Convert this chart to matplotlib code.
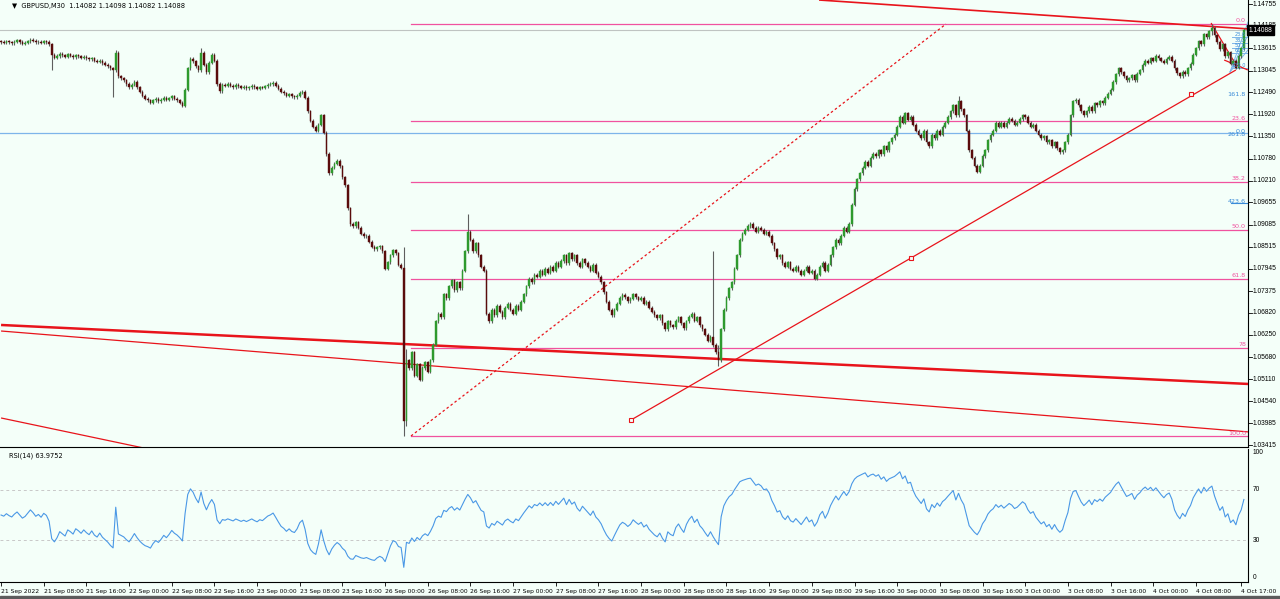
import matplotlib
matplotlib.use("Agg")
import matplotlib.pyplot as plt
import matplotlib.transforms as mtransforms
import numpy as np

# ---- data (prices in pips, /10000) ----
close_pips = [
    # 21 Sep
    11378, 11376, 11380, 11377, 11375, 11379, 11382, 11378, 11374, 11376,
    11380, 11384, 11381, 11377, 11379, 11376, 11380, 11378, 11372,
    11345, 11338, 11342, 11348, 11344, 11340, 11346, 11343, 11339, 11344,
    11341, 11337, 11340, 11336, 11333, 11336, 11330, 11327, 11330, 11324,
    11320, 11316, 11310,
    11305, 11350, 11290,
    11285, 11280, 11270, 11262, 11268, 11275, 11262, 11250, 11240, 11232, 11228,
    11222, 11228, 11232, 11226, 11230, 11235, 11229, 11233, 11238, 11232,
    11228, 11222, 11214,
    11255, 11310, 11335, 11328, 11315, 11305, 11350, 11320, 11300, 11325,
    11345, 11330,
    11270, 11252, 11268,
    11265, 11270, 11266, 11262, 11268, 11264, 11260, 11263, 11259, 11262,
    11265, 11261, 11258, 11262, 11260, 11264, 11268, 11270, 11273, 11266,
    11258, 11250, 11246, 11240, 11243, 11238, 11236, 11240, 11247, 11250, 11235,
    11200, 11175, 11160, 11150, 11165, 11190, 11145,
    11090, 11040, 11055, 11065, 11072, 11058, 11030, 11010,
    10950, 10910, 10905,
    10915, 10900, 10885, 10878, 10880, 10865,
    10852, 10845, 10850, 10853, 10840,
    # 26 Sep
    10795, 10812, 10830, 10843, 10835, 10805, 10798,
    10405,
    10560, 10540, 10580, 10520, 10550, 10510, 10540, 10555, 10530, 10560,
    10600, 10660, 10680, 10670, 10730, 10720, 10750, 10765, 10740, 10760,
    10745, 10790, 10840, 10890, 10870, 10840, 10860, 10830, 10800, 10790,
    10680, 10660,
    10690, 10675, 10700, 10685, 10670, 10695, 10705, 10690, 10680, 10700,
    10690, 10710,
    10730, 10750, 10770, 10760, 10780, 10775, 10790, 10780, 10795, 10785,
    10800, 10790, 10810, 10800,
    10815, 10830, 10810, 10835, 10820, 10830, 10810, 10800, 10820, 10810,
    10800, 10790, 10805, 10785, 10775,
    10760, 10735, 10710, 10690, 10675, 10690, 10705,
    10720, 10728, 10722, 10712, 10718, 10730, 10722, 10715, 10720, 10705,
    10710, 10695, 10685, 10675, 10668,
    10675, 10655, 10640, 10660, 10650, 10645, 10662, 10670, 10655, 10642,
    10660, 10672, 10680, 10662, 10670, 10650, 10640, 10625, 10610, 10620,
    10600, 10580, 10560,
    10640, 10690, 10720, 10745, 10760, 10795, 10830, 10870, 10885,
    10895, 10905, 10910, 10900, 10890, 10900, 10895, 10885, 10890, 10880,
    10860, 10845, 10825, 10830, 10810, 10800, 10812, 10795, 10790, 10800, 10790,
    10780, 10790, 10800, 10785, 10790, 10770, 10780, 10800, 10810, 10790, 10805,
    10830, 10850, 10870, 10860, 10880, 10900, 10890, 10910,
    10960, 11000, 11025, 11040, 11055, 11070, 11060,
    11080, 11090, 11085, 11100, 11090, 11110, 11100, 11120, 11130, 11140,
    11160, 11185, 11170, 11195, 11178, 11185, 11165,
    11150, 11140, 11130, 11150, 11120, 11110, 11140, 11130, 11150, 11140,
    11160, 11170, 11185,
    11200, 11215, 11190, 11225, 11205, 11190,
    11150, 11100, 11080, 11060, 11045, 11060,
    11085, 11100, 11125, 11140, 11150, 11170, 11160, 11170,
    11160, 11170, 11180, 11175, 11165, 11170, 11180, 11190, 11185, 11170,
    11160, 11165, 11150, 11140,
    11130, 11135, 11120, 11125, 11110, 11120, 11105, 11095, 11100, 11120, 11140,
    11190, 11225, 11230, 11215, 11200,
    11190, 11200, 11212, 11200, 11220, 11215, 11225, 11220, 11235, 11245, 11255,
    11275, 11295, 11310, 11300, 11290, 11280,
    11285, 11292, 11280, 11296, 11305,
    11320, 11330, 11325, 11336, 11330, 11342, 11336, 11330, 11325, 11335,
    11340, 11330,
    11310, 11298, 11290, 11302, 11295, 11310, 11322,
    11345, 11362, 11380, 11372, 11398, 11390, 11405, 11415,
    11395, 11378, 11360, 11372, 11342, 11352, 11322, 11330, 11312, 11342,
    11362, 11409,
]
first_open_pips = 11380
default_wick_pips = 4
# bars with long shadows: bar index -> (high, low) in pips
shadow_pips = {
    19: (11350, 11306), 42: (11312, 11236), 43: (11357, 11300),
    75: (11362, 11300), 151: (10850, 10365), 152: (10590, 10390),
    175: (10935, 10835), 267: (10840, 10595), 269: (10600, 10545),
    359: (11240, 11190), 454: (11424, 11395),
}

time_ticks = [0, 16, 32, 48, 64, 80, 96, 112, 128, 144, 160, 176, 192, 208,
              224, 240, 256, 272, 288, 304, 320, 336, 352, 368, 384, 400,
              416, 432, 448, 465]
time_labels = ["21 Sep 2022", "21 Sep 08:00", "21 Sep 16:00", "22 Sep 00:00",
               "22 Sep 08:00", "22 Sep 16:00", "23 Sep 00:00", "23 Sep 08:00",
               "23 Sep 16:00", "26 Sep 00:00", "26 Sep 08:00", "26 Sep 16:00",
               "27 Sep 00:00", "27 Sep 08:00", "27 Sep 16:00", "28 Sep 00:00",
               "28 Sep 08:00", "28 Sep 16:00", "29 Sep 00:00", "29 Sep 08:00",
               "29 Sep 16:00", "30 Sep 00:00", "30 Sep 08:00", "30 Sep 16:00",
               "3 Oct 00:00", "3 Oct 08:00", "3 Oct 16:00", "4 Oct 00:00",
               "4 Oct 08:00", "4 Oct 17:00"]
price_ticks = [1.14755, 1.14185, 1.13615, 1.13045, 1.12490, 1.11920, 1.11350,
               1.10780, 1.10210, 1.09655, 1.09085, 1.08515, 1.07945, 1.07375,
               1.06820, 1.06250, 1.05680, 1.05110, 1.04540, 1.03985, 1.03415]

fib_high = 1.14241
fib_low = 1.03645
fib_start_bar = 153.7
fib_levels = [0.0, 23.6, 38.2, 50.0, 61.8, 78.6, 100.0]
fib_texts = ["0.0", "23.6", "38.2", "50.0", "61.8", "78", "100.0"]

bid_price = 1.14088
expansion_line = 1.11440
expansion_labels = [("161.8", 1.12442), ("0.0", 1.11475), ("261.8", 1.11395),
                    ("423.6", 1.09692)]
# small fib cluster on the last bars (label, price)
cluster_labels = [("23.6", 1.13905), ("38.2", 1.13753), ("50.0", 1.13625),
                  ("61.8", 1.13496), ("100.0", 1.13110)]
cluster_start_bar = 461.5
fan_origin = (460.8, 1.13008)
fan_ends = [1.14293, 1.13958, 1.13573]

# trend lines: (bar0, price0, bar1, price1)
channel_main = (0, 1.06506, 468, 1.04989)
channel_lower = (0, 1.06351, 468, 1.03756)
old_line = (0, 1.04116, 60, 1.03250)
top_line = (306.7, 1.14858, 468, 1.14113)
fib_diag = (153.7, 1.03653, 354.3, 1.14241)
up_trend = (236.2, 1.04064, 463.0, 1.13059)
peak_line = (453.7, 1.14267, 462.4, 1.13265)
last_line = (458.6, 1.13316, 467.5, 1.13059)
up_trend_points_bar = [236.2, 341.2, 446.2]
up_trend_points_price = [1.04064, 1.08227, 1.12442]

BG = "#F4FFF9"
UP = "#2E9A2E"
DOWN = "#5A0C0C"
WICK = "#5E5E5E"
PINK = "#F0529F"
BLUE = "#7DB5EA"
BLUE_TXT = "#3A8BD8"
RED = "#E8141B"


def wilder_rsi(closes, period=14):
    ag, al = 0.0004, 0.0004
    out = [50.0]
    for i in range(1, len(closes)):
        d = closes[i] - closes[i - 1]
        ag = (ag * (period - 1) + max(d, 0.0)) / period
        al = (al * (period - 1) + max(-d, 0.0)) / period
        out.append(100.0 - 100.0 / (1.0 + ag / al) if al > 0 else 100.0)
    return np.array(out)


closes = np.array(close_pips) / 10000.0
opens = np.concatenate([[first_open_pips / 10000.0], closes[:-1]])
highs = np.maximum(opens, closes) + default_wick_pips / 10000.0
lows = np.minimum(opens, closes) - default_wick_pips / 10000.0
for i, (h, l) in shadow_pips.items():
    if i < len(closes):
        highs[i] = max(h / 10000.0, highs[i])
        lows[i] = min(l / 10000.0, lows[i])
x = np.arange(len(closes))
rsi = wilder_rsi(closes)

W, H = 1280, 599
fig = plt.figure(figsize=(W / 100, H / 100), dpi=100, facecolor=BG)
ax = fig.add_axes([0, 1 - 447 / H, 1248 / W, 447 / H], facecolor=BG)
ax_rsi = fig.add_axes([0, 1 - 582 / H, 1248 / W, 133 / H], facecolor=BG)

xlim = (-0.4, 1248 / 2.667 - 0.4)
for a in (ax, ax_rsi):
    a.set_xlim(*xlim)
    for s in ("top", "left"):
        a.spines[s].set_visible(False)
    a.spines["right"].set_color("black")
    a.spines["bottom"].set_color("black")
    a.spines["right"].set_linewidth(0.8)
    a.spines["bottom"].set_linewidth(0.8)

ax.set_ylim(1.03370, 1.14858)

ax.axhline(bid_price, color="#BFC4C2", lw=0.8, zorder=1)
ax.axhline(expansion_line, color=BLUE, lw=0.9, zorder=1)

# fib retracement
rng = fib_high - fib_low
for lvl, txt in zip(fib_levels, fib_texts):
    p = fib_high - rng * lvl / 100.0
    ax.plot([fib_start_bar, xlim[1]], [p, p], color=PINK, lw=0.9, zorder=2)
    ax.text(xlim[1] - 0.8, p + 0.0002, txt, color=PINK, fontsize=4.6,
            ha="right", va="bottom", zorder=6)

for txt, p in expansion_labels:
    ax.text(xlim[1] - 0.8, p, txt, color=BLUE_TXT, fontsize=4.6,
            ha="right", va="center", zorder=6)
ax.plot([461, xlim[1]], [1.09640, 1.09640], color=BLUE_TXT, lw=0.8, zorder=2)

# fib cluster on the last bars
for txt, p in cluster_labels:
    ax.plot([cluster_start_bar, xlim[1]], [p, p], color=BLUE, lw=0.7, zorder=2)
    ax.text(xlim[1] - 0.8, p + 0.00005, txt, color=BLUE_TXT, fontsize=3.6,
            ha="right", va="bottom", zorder=6)
for pe in fan_ends:
    ax.plot([fan_origin[0], xlim[1]], [fan_origin[1], pe], color=BLUE,
            lw=0.7, zorder=2)

# red lines
for seg, lw, ls in [(channel_main, 1.8, "-"), (channel_lower, 0.9, "-"),
                    (old_line, 0.9, "-"), (top_line, 1.2, "-"),
                    (up_trend, 0.9, "-"), (fib_diag, 0.9, (0, (2, 2))),
                    (peak_line, 0.9, "-"), (last_line, 0.9, "-")]:
    ax.plot([seg[0], seg[2]], [seg[1], seg[3]], color=RED, lw=lw,
            linestyle=ls, zorder=3, solid_capstyle="butt")
ax.plot(up_trend_points_bar, up_trend_points_price, linestyle="none",
        marker="s", ms=3, mfc=BG, mec=RED, mew=0.8, zorder=4)

# candles
ax.vlines(x, lows, highs, color=WICK, lw=0.8, zorder=4)
body_lo = np.minimum(opens, closes)
body_h = np.maximum(np.abs(closes - opens), 0.00012)
colors = [UP if c >= o else DOWN for o, c in zip(opens, closes)]
ax.bar(x, body_h, bottom=body_lo, width=0.62, color=colors,
       edgecolor=colors, linewidth=0.3, zorder=5)

# price axis on the right
ax.set_yticks([])
ax.set_xticks([])
trans = mtransforms.blended_transform_factory(ax.transAxes, ax.transData)
for p in price_ticks:
    ax.plot([1.0, 1.003], [p, p], color="black", lw=0.6, transform=trans,
            clip_on=False)
    ax.text(1.004, p + (0.0001 if p == 1.14185 else 0), f"{p:.5f}",
            transform=trans, fontsize=4.8, va="center", ha="left",
            color="black", family="Liberation Sans")
ax.text(1.0005, bid_price - 0.00008, "1.14088", transform=trans, fontsize=4.8,
        va="center", ha="left", color="white", family="Liberation Sans",
        zorder=10, clip_on=False,
        bbox=dict(boxstyle="square,pad=0.2", fc="black", ec="black"))

ax.text(4, 1.14858 - 6 * 0.000257,
        "\u25BC  GBPUSD,M30  1.14082 1.14098 1.14082 1.14088",
        fontsize=4.8, va="center", ha="left", color="black",
        family="DejaVu Sans")

# RSI panel
ax_rsi.set_ylim(-3.2, 102.4)
ax_rsi.axhline(70, color="#C8C8C8", lw=0.7, ls=(0, (3, 3)))
ax_rsi.axhline(30, color="#C8C8C8", lw=0.7, ls=(0, (3, 3)))
ax_rsi.plot(x, rsi, color="#4A98E6", lw=0.8)
ax_rsi.set_yticks([])
trans_r = mtransforms.blended_transform_factory(ax_rsi.transAxes, ax_rsi.transData)
for v in (100, 70, 30, 0):
    ax_rsi.text(1.004, v, str(v), transform=trans_r, fontsize=4.8,
                va="center", ha="left", family="Liberation Sans")
ax_rsi.text(3, 97, "RSI(14) 63.9752", fontsize=4.8, va="center", ha="left",
            family="DejaVu Sans")

ax_rsi.set_xticks(time_ticks)
ax_rsi.set_xticklabels(time_labels, fontsize=4.3, family="DejaVu Sans")
for lbl in ax_rsi.get_xticklabels():
    lbl.set_horizontalalignment("left")
ax_rsi.tick_params(axis="x", direction="out", length=3, width=0.6, pad=2)

# bottom strip
fig.patches.append(plt.Rectangle((0, 0), 1, 3 / H, transform=fig.transFigure,
                                 color="#5C5C5C", zorder=0))

fig.savefig("out.png", dpi=100, facecolor=BG)
